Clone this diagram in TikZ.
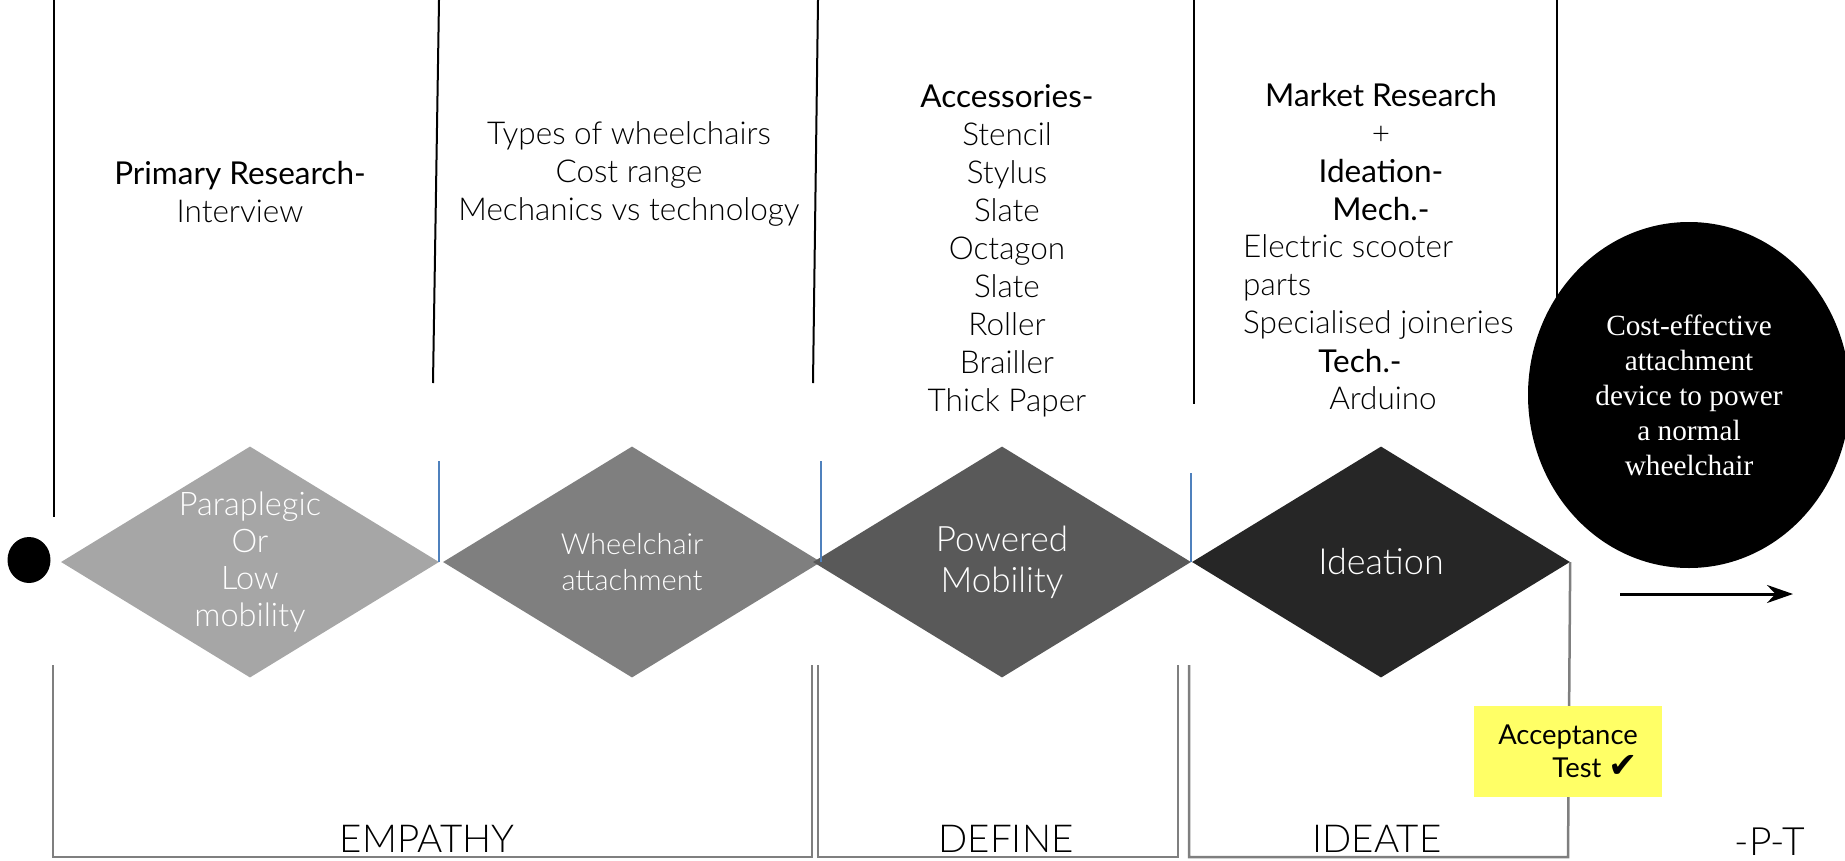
\documentclass[tikz,border=0pt]{standalone}
\usepackage{fontspec}
\usetikzlibrary{shapes.geometric,arrows.meta}
\newfontfamily\lightfont{Lato Light}
\newfontfamily\regfont{Lato}
\newfontfamily\serifont{Liberation Serif}
\newfontfamily\checkfont{DejaVu Sans}
\definecolor{stageA}{HTML}{A6A6A6}
\definecolor{stageB}{HTML}{7F7F7F}
\definecolor{stageC}{HTML}{595959}
\definecolor{stageD}{HTML}{262626}
\definecolor{marker}{HTML}{4F81BD}
\definecolor{bracket}{HTML}{7F7F7F}
\definecolor{note}{HTML}{FFFF66}
\tikzset{
  stage/.style={diamond, inner sep=0pt, minimum width=378pt, minimum height=231pt},
  stagetext/.style={text=white, align=center, inner sep=0pt},
  toptext/.style={font=\lightfont\fontsize{31.5}{38}\selectfont, align=center, anchor=base, inner sep=0pt},
  phase/.style={font=\lightfont\fontsize{38.5}{38.5}\selectfont, anchor=base, inner sep=0pt},
  divider/.style={line width=2pt, black},
  tick/.style={line width=2pt, marker},
  frame/.style={line width=2.5pt, bracket},
}
\begin{document}
\begin{tikzpicture}[x=1pt,y=-1pt]
\useasboundingbox (0,0) rectangle (1845,860);

% column dividers along the top
\draw[divider] (54,0) -- (54,517);
\draw[divider] (439,0) -- (433,383);
\draw[divider] (818,0) -- (813,383);
\draw[divider] (1194,0) -- (1194,404);
\draw[divider] (1557,0) -- (1557,300);

% start point
\node[ellipse, fill=black, inner sep=0pt, minimum width=43pt, minimum height=46pt] (start) at (29,560) {};

% the four stages
\node[stage, fill=stageA, label={[stagetext, font=\lightfont\fontsize{32.5}{37}\selectfont]center:{Paraplegic\\Or\\Low\\mobility}}] (s1) at (250,562) {};
\node[stage, fill=stageB, label={[stagetext, font=\lightfont\fontsize{29}{36}\selectfont]center:{Wheelchair\\attachment}}] (s2) at (632,562) {};
\node[stage, fill=stageC, label={[stagetext, font=\lightfont\fontsize{35}{41}\selectfont]center:{Powered\\Mobility}}] (s3) at (1002,562) {};
\node[stage, fill=stageD, label={[stagetext, font=\lightfont\fontsize{36}{41}\selectfont]center:{Ideation}}] (s4) at (1381,562) {};

% blue ticks at the stage joints
\draw[tick] (s1.east) -- ++(0,-101);
\draw[tick] (s2.east) -- ++(0,-101);
\draw[tick] (s3.east) -- ++(0,-89);

% outcome
\node[ellipse, fill=black, inner sep=0pt, minimum width=322pt, minimum height=346pt,
  label={[text=white, align=center, inner sep=0pt, font=\serifont\fontsize{29.3}{35}\selectfont]center:{Cost-effective\\attachment\\device to power\\a normal\\wheelchair}}] (goal) at (1689,395) {};

% column notes (each node is placed by the baseline of its last line)
\node[toptext] (n1) at (240,222) {{\regfont Primary Research-}\\Interview};
\node[toptext] (n2) at (629,220) {Types of wheelchairs\\Cost range\\Mechanics vs technology};
\node[toptext] (n3) at (1007,411) {{\regfont Accessories-}\\Stencil\\Stylus\\Slate\\Octagon\\Slate\\Roller\\Brailler\\Thick Paper};
\node[toptext] (n4) at (1381,220) {{\regfont Market Research}\\+\\{\regfont Ideation-}\\{\regfont Mech.-}};
\node[toptext, align=left, anchor=base west] (n5) at (1243,333) {Electric scooter\\parts\\Specialised joineries};
\node[toptext] (n6) at (1360,372) {\regfont Tech.-};
\node[toptext] (n7) at (1383,409) {Arduino};

% phase brackets
\draw[frame] (53,665) -- (53,857) -- (812,857) -- (812,665);
\draw[frame] (818,665) -- (818,857) -- (1178,857) -- (1178,665);
\draw[frame] (1189,665) -- (1189,857) -- (1568,857) -- (s4.east);

\node[phase] (p1) at (427,852) {EMPATHY};
\node[phase] (p2) at (1006,852) {DEFINE};
\node[phase] (p3) at (1377,852) {IDEATE};
\node[phase, font=\lightfont\fontsize{39}{39}\selectfont] (p4) at (1770,855) {-P-T};

% acceptance note
\node[fill=note, inner sep=0pt, minimum width=188pt, minimum height=91pt, align=right,
  font=\regfont\fontsize{27.4}{33}\selectfont] (acc) at (1568,751) {Acceptance\\Test {\checkfont\fontsize{35}{33}\selectfont ✔}};

% onward arrow
\coordinate (arrS) at (1620,594);
\coordinate (arrE) at (1793,594);
\draw[line width=3pt, -{Stealth[length=26pt, width=18pt]}] (arrS) -- (arrE);
\end{tikzpicture}
\end{document}
